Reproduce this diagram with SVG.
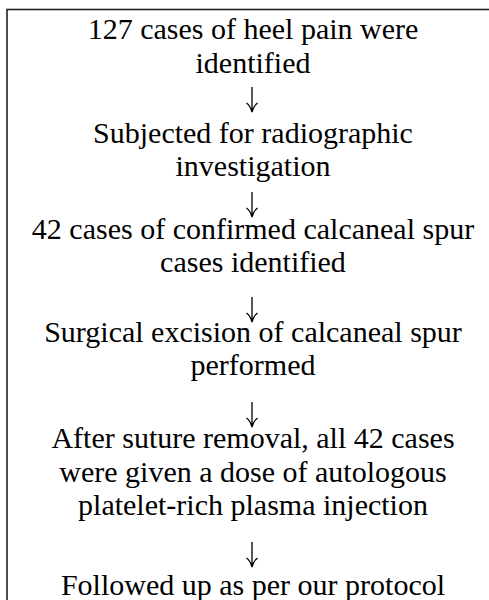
<svg xmlns="http://www.w3.org/2000/svg" width="489" height="600" viewBox="0 0 489 600">
<defs>
<path id="arr" d="M0,0 V25 M-5.5,16 Q-1.5,19 0,25 Q1.5,19 5.5,16" fill="none" stroke="#000" stroke-width="1.3"/>
</defs>
<rect x="0" y="0" width="489" height="600" fill="#fff"/>
<rect x="7" y="9.5" width="492" height="620" fill="none" stroke="#222" stroke-width="1.6"/>
<g id="n1"><text x="253" y="39" font-family="Liberation Serif" font-size="30" text-anchor="middle">127 cases of heel pain were</text><text x="253" y="72.5" font-family="Liberation Serif" font-size="30" text-anchor="middle">identified</text></g>
<g id="n2"><text x="253" y="142.5" font-family="Liberation Serif" font-size="30" text-anchor="middle">Subjected for radiographic</text><text x="253" y="175.5" font-family="Liberation Serif" font-size="30" text-anchor="middle">investigation</text></g>
<g id="n3"><text x="253" y="238.5" font-family="Liberation Serif" font-size="30" text-anchor="middle">42 cases of confirmed calcaneal spur</text><text x="253" y="272" font-family="Liberation Serif" font-size="30" text-anchor="middle">cases identified</text></g>
<g id="n4"><text x="253" y="341.5" font-family="Liberation Serif" font-size="30" text-anchor="middle">Surgical excision of calcaneal spur</text><text x="253" y="375" font-family="Liberation Serif" font-size="30" text-anchor="middle">performed</text></g>
<g id="n5"><text x="253" y="448" font-family="Liberation Serif" font-size="30" text-anchor="middle">After suture removal, all 42 cases</text><text x="253" y="481.5" font-family="Liberation Serif" font-size="30" text-anchor="middle">were given a dose of autologous</text><text x="253" y="515" font-family="Liberation Serif" font-size="30" text-anchor="middle">platelet-rich plasma injection</text></g>
<g id="n6"><text x="253" y="595" font-family="Liberation Serif" font-size="30" text-anchor="middle">Followed up as per our protocol</text></g>
<g id="connectors">
<use href="#arr" x="252" y="87"/>
<use href="#arr" x="252" y="192"/>
<use href="#arr" x="252" y="297"/>
<use href="#arr" x="252" y="402"/>
<use href="#arr" x="252" y="542"/>
</g>
</svg>
